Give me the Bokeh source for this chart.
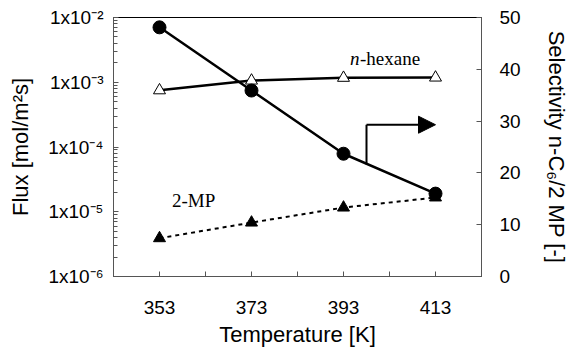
from bokeh.plotting import figure
from bokeh.models import (Range1d, LinearAxis, LinearScale, FixedTicker, SingleIntervalTicker, LogTicker,
                          CustomJSTickFormatter, Label, Arrow, NormalHead, Title)
from bokeh.embed import file_html
from bokeh.resources import INLINE

# ---- data ----
temperature = [353, 373, 393, 413]
flux_nhexane = [7.5e-4, 1.06e-3, 1.17e-3, 1.18e-3]
flux_2mp = [3.9e-6, 6.8e-6, 1.16e-5, 1.66e-5]
selectivity = [48.1, 35.9, 23.7, 16.0]

x_major = [353, 373, 393, 413]
x_minor = [343, 363, 383, 403, 423]

# annotation anchor (in data units): arrow pointing to right axis
arrow_x0, arrow_x1 = 398.0, 413.0
arrow_y_low, arrow_y = 21.6, 29.3

FONT = "Liberation Sans"
SERIF = "Liberation Serif"

p = figure(width=571, height=350, x_range=Range1d(343, 423), y_range=Range1d(1e-6, 1e-2),
           y_axis_type="log", output_backend="svg", toolbar_location=None,
           min_border_left=113, min_border_right=86, min_border_top=17, min_border_bottom=74)
p.xgrid.visible = False
p.ygrid.visible = False
p.outline_line_color = "black"
p.outline_line_width = 1
p.background_fill_color = "white"
p.border_fill_color = "white"

p.extra_y_ranges = {"sel": Range1d(0, 50)}
p.extra_y_scales = {"sel": LinearScale()}

# x axis
xa = p.xaxis[0]
xa.ticker = FixedTicker(ticks=x_major, minor_ticks=x_minor)

# left axis
ya = p.yaxis[0]
ya.ticker = LogTicker(num_minor_ticks=10)
ya.formatter = CustomJSTickFormatter(code="""
const sup = {"-":"\u207b","0":"\u2070","1":"\u00b9","2":"\u00b2","3":"\u00b3","4":"\u2074",
             "5":"\u2075","6":"\u2076","7":"\u2077","8":"\u2078","9":"\u2079"};
const e = Math.round(Math.log10(tick));
return "1x10" + String(e).split("").map(c => sup[c]).join("");
""")
ya.axis_label = "Flux [mol/m\u00b2s]"

# right axis
ra = LinearAxis(y_range_name="sel", ticker=SingleIntervalTicker(interval=10, num_minor_ticks=0),
                axis_label="Selectivity n-C\u2086/2 MP [-]")
p.add_layout(ra, "right")

for ax in [xa, ya, ra]:
    ax.axis_line_color = "#555555"
    ax.axis_line_width = 1
    ax.major_tick_line_color = "#555555"
    ax.minor_tick_line_color = "#555555"
    ax.major_tick_in = 5
    ax.major_tick_out = 0
    ax.minor_tick_in = 4
    ax.minor_tick_out = 0
    ax.major_label_text_font = FONT
    ax.major_label_text_font_size = "19px"
    ax.major_label_text_color = "black"
    ax.axis_label_text_font = FONT
    ax.axis_label_text_font_size = "22px"
    ax.axis_label_text_font_style = "normal"
    ax.axis_label_text_color = "black"

xa.minor_tick_in = 5
xa.major_label_standoff = 24
ya.major_label_standoff = 10
ya.axis_label_standoff = 12
ra.major_label_standoff = 18
ra.axis_label_standoff = 20

# x-axis title placed below the tick labels
p.add_layout(Title(text="Temperature [K]", align="center", text_font=FONT, text_font_size="22px",
                   text_font_style="normal", text_color="black", standoff=6), "below")

# series
p.line(temperature, flux_nhexane, line_color="black", line_width=2.5)
p.scatter(temperature, flux_nhexane, marker="triangle", size=12, fill_color="white",
          line_color="black", line_width=1)

p.line(temperature, flux_2mp, line_color="black", line_width=2, line_dash="4 4")
p.scatter(temperature, flux_2mp, marker="triangle", size=12, fill_color="black", line_color="black")

p.line(temperature, selectivity, line_color="black", line_width=2.5, y_range_name="sel")
p.scatter(temperature, selectivity, marker="circle", size=13, fill_color="black",
          line_color="black", y_range_name="sel")

# arrow annotation
p.segment(x0=[arrow_x0], y0=[arrow_y_low], x1=[arrow_x0], y1=[arrow_y], line_color="black",
          line_width=2, y_range_name="sel")
p.add_layout(Arrow(x_start=arrow_x0, y_start=arrow_y, x_end=arrow_x1, y_end=arrow_y,
                   y_range_name="sel", line_color="black", line_width=2,
                   end=NormalHead(size=17, fill_color="black", line_color="black")))

# text labels
p.add_layout(Label(x=394.4, y=2.33e-3, text="n", text_font=SERIF, text_font_size="19px",
                   text_font_style="italic", text_baseline="middle", text_align="left",
                   text_color="black"))
p.add_layout(Label(x=394.4, y=2.33e-3, x_offset=10, text="-hexane", text_font=SERIF,
                   text_font_size="19px", text_baseline="middle", text_align="left",
                   text_color="black"))
p.add_layout(Label(x=355.7, y=1.49e-5, text="2-MP", text_font=SERIF, text_font_size="19px",
                   text_baseline="middle", text_align="left", text_color="black"))

open("out.html", "w").write(file_html(p, INLINE))
